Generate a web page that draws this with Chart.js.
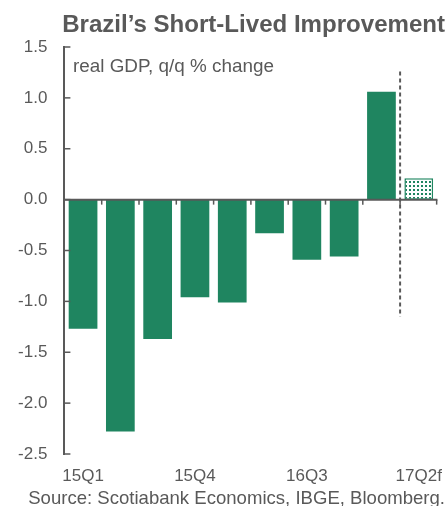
<!DOCTYPE html>
<html>
<head>
<meta charset="utf-8">
<script src="https://cdn.jsdelivr.net/npm/chart.js@4.4.1/dist/chart.umd.min.js"></script>
<style>
  html, body { margin: 0; padding: 0; background: #fff; }
  #wrap { width: 448px; height: 506px; }
</style>
</head>
<body>
<div id="wrap"><canvas id="gdp"></canvas></div>
<script>
// quarters and real GDP q/q % change (last one is forecast)
var quarters = ['15Q1', '15Q2', '15Q3', '15Q4', '16Q1', '16Q2', '16Q3', '16Q4', '17Q1', '17Q2f'];
var gdpChange = [-1.27, -2.28, -1.37, -0.96, -1.01, -0.33, -0.59, -0.56, 1.06, 0.21];
var shownLabels = ['15Q1', '15Q4', '16Q3', '17Q2f'];
var yTicks = [1.5, 1.0, 0.5, 0.0, -0.5, -1.0, -1.5, -2.0, -2.5];
var forecastLine = [1.26, -1.15];   // top / bottom of dashed separator

var titleText = 'Brazil\u2019s Short-Lived Improvement';
var noteText = 'real GDP, q/q % change';
var sourceText = 'Source: Scotiabank Economics, IBGE, Bloomberg.';

var green = 'rgb(31,133,96)';
var grey = '#595959';
var fontFam = '"Liberation Sans", Arial, sans-serif';

// dotted fill for forecast bar
function dotPattern() {
    var c = document.createElement('canvas');
    c.width = 4; c.height = 4;
    var g = c.getContext('2d');
    g.fillStyle = '#ffffff';
    g.fillRect(0, 0, 4, 4);
    g.fillStyle = green;
    g.fillRect(1, 1, 2, 2);
    return g.createPattern(c, 'repeat');
}
var pat = dotPattern();

var colors = gdpChange.map(function (v, i) { return i === quarters.length - 1 ? pat : green; });

function fitFont(ctx, text, weight, width) {
    ctx.font = weight + ' 20px ' + fontFam;
    var s = 20 * width / ctx.measureText(text).width;
    return weight + ' ' + s.toFixed(2) + 'px ' + fontFam;
}

var extras = {
    id: 'extras',
    afterDatasetsDraw: function (chart) {
        var ctx = chart.ctx;
        var x = chart.scales.x, y = chart.scales.y;
        var area = chart.chartArea;
        var y0 = y.getPixelForValue(0);
        ctx.save();
        ctx.strokeStyle = grey;
        ctx.lineWidth = 2;
        // zero line
        ctx.beginPath();
        ctx.moveTo(area.left, y0);
        ctx.lineTo(area.right, y0);
        ctx.stroke();
        // category boundary ticks
        ctx.lineWidth = 1.5;
        for (var i = 1; i <= quarters.length; i++) {
            var bx = i < quarters.length
                ? (x.getPixelForValue(i - 1) + x.getPixelForValue(i)) / 2
                : area.right - 0.75;
            ctx.beginPath();
            ctx.moveTo(bx, y0);
            ctx.lineTo(bx, y0 + 5);
            ctx.stroke();
        }
        // y ticks pointing inward
        yTicks.forEach(function (t) {
            var ty = y.getPixelForValue(t);
            ctx.beginPath();
            ctx.moveTo(area.left, ty);
            ctx.lineTo(area.left + 6, ty);
            ctx.stroke();
        });
        // dashed forecast separator
        var n = quarters.length;
        var sx = (x.getPixelForValue(n - 2) + x.getPixelForValue(n - 1)) / 2;
        ctx.lineWidth = 2;
        ctx.setLineDash([4, 3]);
        ctx.beginPath();
        ctx.moveTo(sx, y.getPixelForValue(forecastLine[0]));
        ctx.lineTo(sx, y.getPixelForValue(forecastLine[1]));
        ctx.stroke();
        ctx.setLineDash([]);

        // texts
        ctx.fillStyle = grey;
        ctx.textBaseline = 'alphabetic';
        ctx.textAlign = 'left';
        ctx.font = fitFont(ctx, noteText, 'normal', 201);
        ctx.fillText(noteText, 73, 72);
        ctx.textAlign = 'right';
        ctx.font = fitFont(ctx, titleText, 'bold', 383);
        ctx.fillText(titleText, 445, 31.5);
        ctx.font = fitFont(ctx, sourceText, 'normal', 417);
        ctx.fillText(sourceText, 445, 504);
        ctx.restore();
    }
};

new Chart(document.getElementById('gdp'), {
    type: 'bar',
    data: {
        labels: quarters,
        datasets: [{
            label: 'real GDP, q/q % change',
            data: gdpChange,
            backgroundColor: colors,
            borderColor: green,
            borderWidth: gdpChange.map(function (v, i) { return i === quarters.length - 1 ? 1.5 : 0; }),
            borderSkipped: false,
            barPercentage: 0.77,
            categoryPercentage: 1.0
        }]
    },
    options: {
        responsive: true,
        maintainAspectRatio: false,
        animation: false,
        layout: { padding: { top: 47, right: 10.6, bottom: 0, left: 0 } },
        plugins: {
            legend: { display: false },
            tooltip: { enabled: false }
        },
        scales: {
            x: {
                offset: true,
                grid: { display: false, drawTicks: false },
                border: { display: false },
                afterFit: function (s) {
                    s.height = 52;
                    s.paddingLeft = 0;
                    s.paddingRight = 0;
                },
                ticks: {
                    autoSkip: false,
                    maxRotation: 0,
                    padding: 12,
                    color: grey,
                    font: { family: fontFam, size: 17 },
                    callback: function (v, i) {
                        var q = quarters[i];
                        return shownLabels.indexOf(q) >= 0 ? q : '';
                    }
                }
            },
            y: {
                min: -2.5,
                max: 1.5,
                afterFit: function (s) { s.width = 64.4; },
                grid: { display: false, drawTicks: false },
                border: { display: true, color: grey, width: 2 },
                ticks: {
                    stepSize: 0.5,
                    padding: 17,
                    color: grey,
                    font: { family: fontFam, size: 17 },
                    callback: function (v) { return v.toFixed(1); }
                }
            }
        }
    },
    plugins: [extras]
});
</script>
</body>
</html>
